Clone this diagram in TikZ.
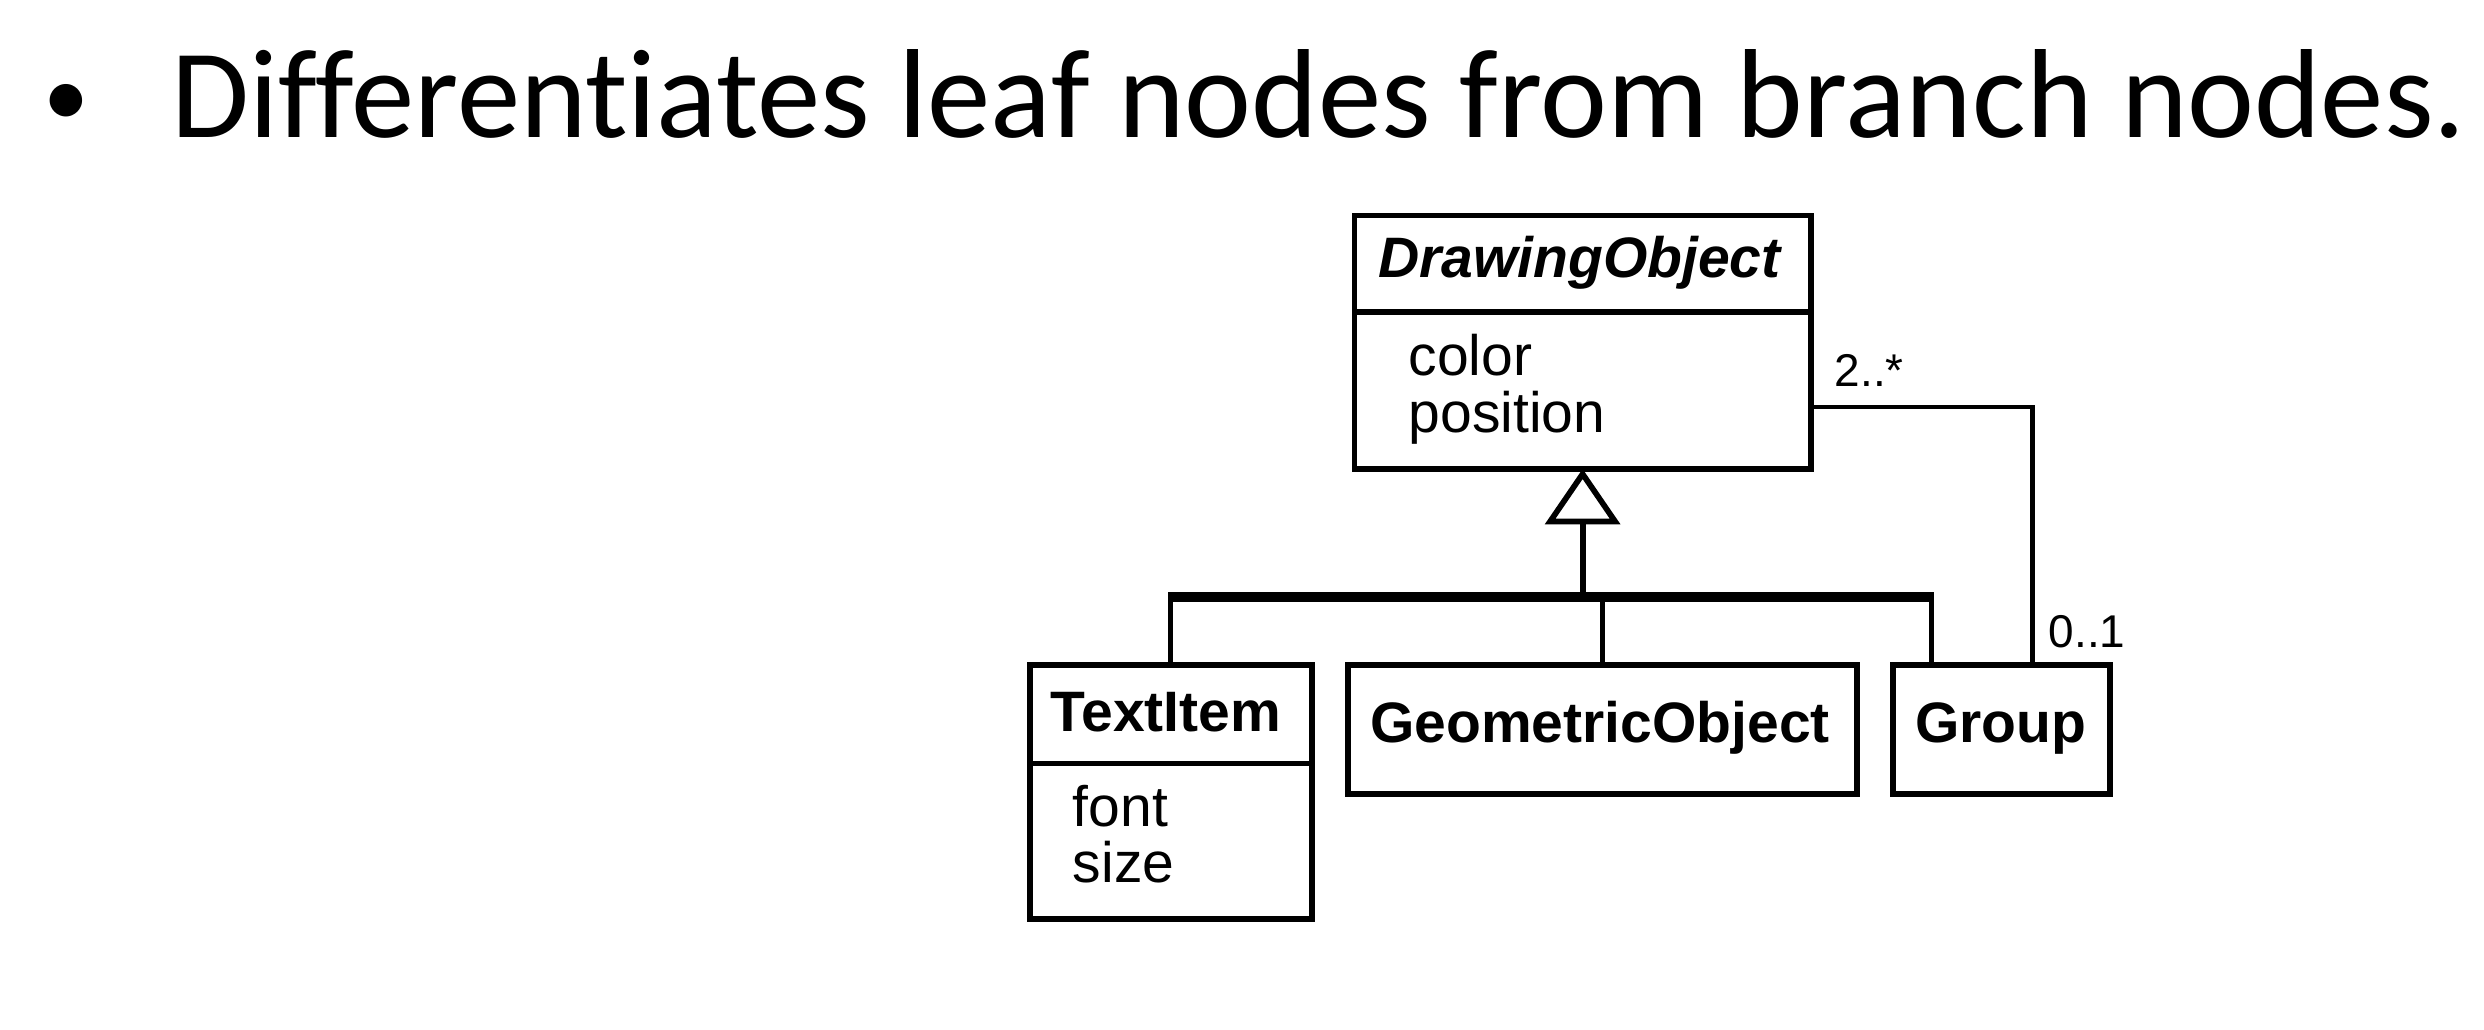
\documentclass[tikz,border=0pt]{standalone}
\usepackage{fontspec}
\setmainfont{Carlito}[Ligatures=NoCommon]
\newfontfamily\umlfont{Liberation Sans}
\usetikzlibrary{arrows.meta,calc}
\begin{document}
\begin{tikzpicture}[x=1pt,y=1pt,
  cls/.style={draw, line width=3.6pt, inner sep=0pt, outer sep=0pt},
  umlname/.style={font=\umlfont\bfseries\fontsize{36}{40}\selectfont, inner sep=0pt, anchor=base},
  umlattr/.style={font=\umlfont\fontsize{36}{40}\selectfont, inner sep=0pt, anchor=base west},
  mult/.style={font=\umlfont\fontsize{29}{32}\selectfont, inner sep=0pt, anchor=base west},
  dropline/.style={line width=3pt},
  barline/.style={line width=6pt},
  assocline/.style={line width=2.6pt},
  genline/.style={line width=3.8pt, -{Triangle[open, length=35pt, width=47pt, line width=3.6pt]}}
]
\fill[white] (0,0) rectangle (1568,650);
\useasboundingbox (0,0) rectangle (1568,650);

% title
\node[anchor=base, inner sep=0pt, font=\fontsize{58}{66}\selectfont] (bul) at (42,570) {•};
\node[anchor=base west, inner sep=0pt, font=\fontsize{80}{90}\selectfont] (title) at (108,563.5) {Differentiates leaf nodes from branch nodes.};

% DrawingObject
\node[cls, minimum width=288pt, minimum height=61pt] (dname) at (999,483.5) {};
\node[cls, minimum width=288pt, minimum height=99pt] (dattr) at (999,403.5) {};
\node[umlname] (dnameT) at (997,475) {\itshape DrawingObject};
\node[umlattr] (acolor) at (889,413) {color};
\node[umlattr] (apos) at (889,377) {position};

% TextItem
\node[cls, minimum width=178pt, minimum height=62pt] (tname) at (739,199) {};
\node[cls, minimum width=178pt, minimum height=98pt] (tattr) at (739,119) {};
\node[umlname] (tT) at (736,188) {TextItem};
\node[umlattr] (afont) at (677,128) {font};
\node[umlattr] (asize) at (677,93) {size};

% GeometricObject
\node[cls, minimum width=321pt, minimum height=81pt] (geo) at (1011.5,189.5) {};
\node[umlname] (gT) at (1010,181) {GeometricObject};

% Group
\node[cls, minimum width=137pt, minimum height=81pt] (grp) at (1263.5,189.5) {};
\node[umlname] (grT) at (1263,181) {Group};

% generalization tree
\coordinate (bar) at (999,273);
\coordinate (barL) at (739,273);
\coordinate (barR) at (1219,273);
\draw[barline] ($(barL)+(-1.5,0)$) -- ($(barR)+(1.5,0)$);
\draw[dropline] (barL) -- (tname.north);
\draw[dropline] (bar -| geo.north) -- (geo.north);
\draw[dropline] (barR) -- (barR |- grp.north);
\draw[genline] (bar) -- (dattr.south);

% association
\coordinate (aend) at ($(grp.north west)+(88,0)$);
\draw[assocline] ($(dattr.north east)+(0,-60)$) -| (aend);
\node[mult] (m1) at (1158,406) {2..*};
\node[mult] (m2) at (1293,241) {0..1};
\end{tikzpicture}
\end{document}
